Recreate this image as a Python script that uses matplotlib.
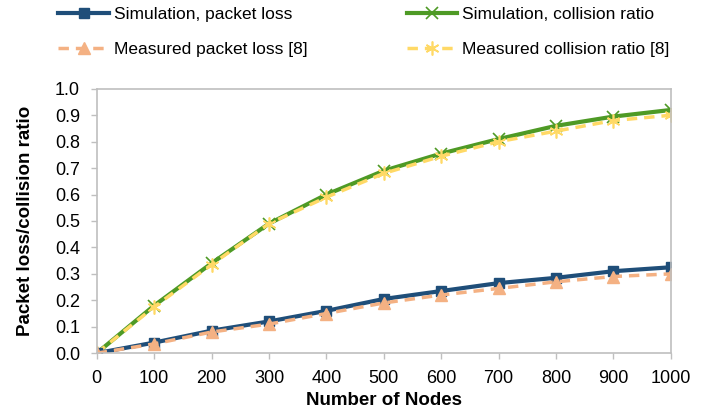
import matplotlib
matplotlib.use('Agg')
import matplotlib.pyplot as plt

plt.rcParams['font.family'] = ['Liberation Sans', 'DejaVu Sans']

nodes = [0, 100, 200, 300, 400, 500, 600, 700, 800, 900, 1000]
sim_loss = [0, 0.04, 0.085, 0.12, 0.16, 0.205, 0.235, 0.265, 0.285, 0.31, 0.325]
meas_loss = [0, 0.035, 0.08, 0.11, 0.15, 0.19, 0.22, 0.245, 0.27, 0.29, 0.30]
sim_coll = [0, 0.18, 0.34, 0.49, 0.60, 0.69, 0.755, 0.81, 0.86, 0.895, 0.92]
meas_coll = [0, 0.175, 0.335, 0.49, 0.59, 0.68, 0.745, 0.80, 0.84, 0.88, 0.90]

blue = '#1F4E79'
green = '#4E9A25'
peach = '#F4B183'
yellow = '#FFD966'

fig = plt.figure(figsize=(7.01, 4.15), dpi=100)
ax = fig.add_axes([0.138, 0.149, 0.819, 0.637])

ax.plot(nodes, sim_coll, color=green, lw=3, marker='x', ms=8, mew=1.2, label='Simulation, collision ratio')
ax.plot(nodes, meas_coll, color=yellow, lw=2.5, ls=(0, (3, 2)), marker=(6, 2, 0), ms=10, mew=1.2, label='Measured collision ratio [8]')
ax.plot(nodes, sim_loss, color=blue, lw=3, marker='s', ms=7, label='Simulation, packet loss')
ax.plot(nodes, meas_loss, color=peach, lw=2.5, ls=(0, (3, 2)), marker='^', ms=9, label='Measured packet loss [8]')

ax.set_xlim(0, 1000)
ax.set_ylim(0, 1.0)
ax.set_xticks(nodes)
ax.set_yticks([i / 10 for i in range(11)])
ax.set_yticklabels(['%.1f' % (i / 10) for i in range(11)])
ax.tick_params(labelsize=13, color='#BFBFBF', length=4, width=1)
ax.tick_params(axis='y', pad=8)
ax.tick_params(axis='x', pad=8)
for s in ax.spines.values():
    s.set_color('#BFBFBF')
    s.set_linewidth(1.2)
ax.set_xlabel('Number of Nodes', fontsize=13.5, fontweight='bold', labelpad=4)
ax.set_ylabel('Packet loss/collision ratio', fontsize=13.5, fontweight='bold', labelpad=15)

h, l = ax.get_legend_handles_labels()
order = [2, 3, 0, 1]
fig.legend([h[i] for i in order], [l[i] for i in order], ncol=2, loc='upper left',
           bbox_to_anchor=(0.061, 1.02), frameon=False, fontsize=12.5, handlelength=2.9,
           columnspacing=5.7, handletextpad=0.3, labelspacing=1.1)

fig.savefig('out.png', dpi=100)
